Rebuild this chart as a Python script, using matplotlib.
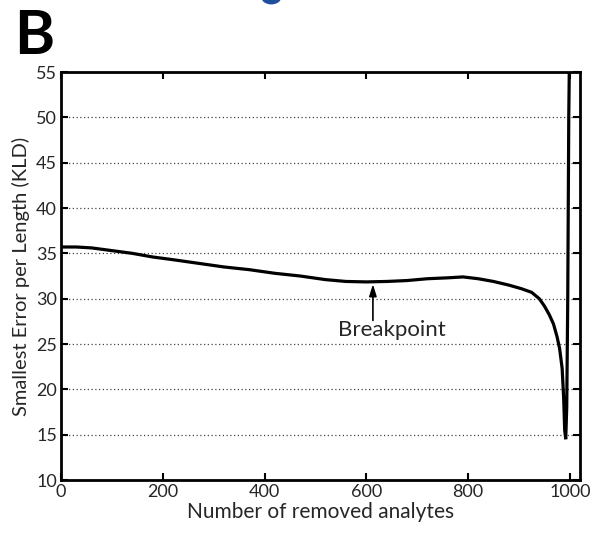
import matplotlib
matplotlib.use("Agg")
import matplotlib.pyplot as plt
from matplotlib.patches import Ellipse

# Smallest error per length vs. number of removed analytes
removed = [0, 30, 60, 100, 140, 180, 220, 270, 320, 370, 420, 470, 520, 560,
           600, 640, 680, 720, 760, 790, 820, 850, 880, 905, 925, 940, 950,
           960, 968, 975, 980, 985, 988, 990, 992, 994, 996, 998, 1000]
error = [35.7, 35.7, 35.6, 35.3, 35.0, 34.6, 34.3, 33.9, 33.5, 33.2, 32.8,
         32.5, 32.1, 31.9, 31.85, 31.9, 32.0, 32.2, 32.3, 32.4, 32.2, 31.9,
         31.5, 31.1, 30.7, 30.0, 29.2, 28.2, 27.2, 25.8, 24.5, 22.3, 19.0,
         15.5, 14.5, 18.0, 30.0, 50.0, 60.0]

breakpoint_x = 613
breakpoint_y = 31.6

x_ticks = [0, 200, 400, 600, 800, 1000]
y_ticks = [10, 15, 20, 25, 30, 35, 40, 45, 50, 55]

plt.rcParams["font.family"] = ["Lato", "DejaVu Sans"]
text_color = "#262626"

fig = plt.figure(figsize=(5.93, 5.33), dpi=100)
ax = fig.add_axes([0.103, 0.0994, 0.875, 0.7655])

ax.plot(removed, error, color="black", lw=2.3, solid_joinstyle="miter")

ax.set_xlim(0, 1020)
ax.set_ylim(10, 55)
ax.set_xticks(x_ticks)
ax.set_yticks(y_ticks)
ax.tick_params(direction="in", length=5, width=1.5, top=True, right=True,
               labelsize=13, colors="black", labelcolor=text_color, pad=3)
for s in ax.spines.values():
    s.set_linewidth(2)

ax.yaxis.grid(True, linestyle=(0, (1, 2)), color="#444444", lw=0.9)
ax.set_axisbelow(True)

ax.set_xlabel("Number of removed analytes", fontsize=15, color=text_color,
              labelpad=1)
ax.set_ylabel("Smallest Error per Length (KLD)", fontsize=14.5,
              color=text_color, labelpad=4)

# vertical arrow up to the breakpoint, label below it
ax.annotate("", xy=(breakpoint_x, breakpoint_y),
            xytext=(breakpoint_x, 27.6),
            arrowprops=dict(arrowstyle="-|>,head_length=0.7,head_width=0.22",
                            color="black", lw=1.2, shrinkA=0, shrinkB=0))
ax.text(650, 26.5, "Breakpoint", ha="center", va="center", fontsize=16,
        color=text_color)

# panel letter and the edge of the previous panel's marker
fig.text(0.024, 0.985, "B", fontsize=44, fontweight="bold", color="black",
         va="top")
fig.patches.append(Ellipse((0.4575, 1.006), 0.032, 0.026,
                           transform=fig.transFigure, color="#1f4f9c"))

fig.savefig("out.png", dpi=100)
